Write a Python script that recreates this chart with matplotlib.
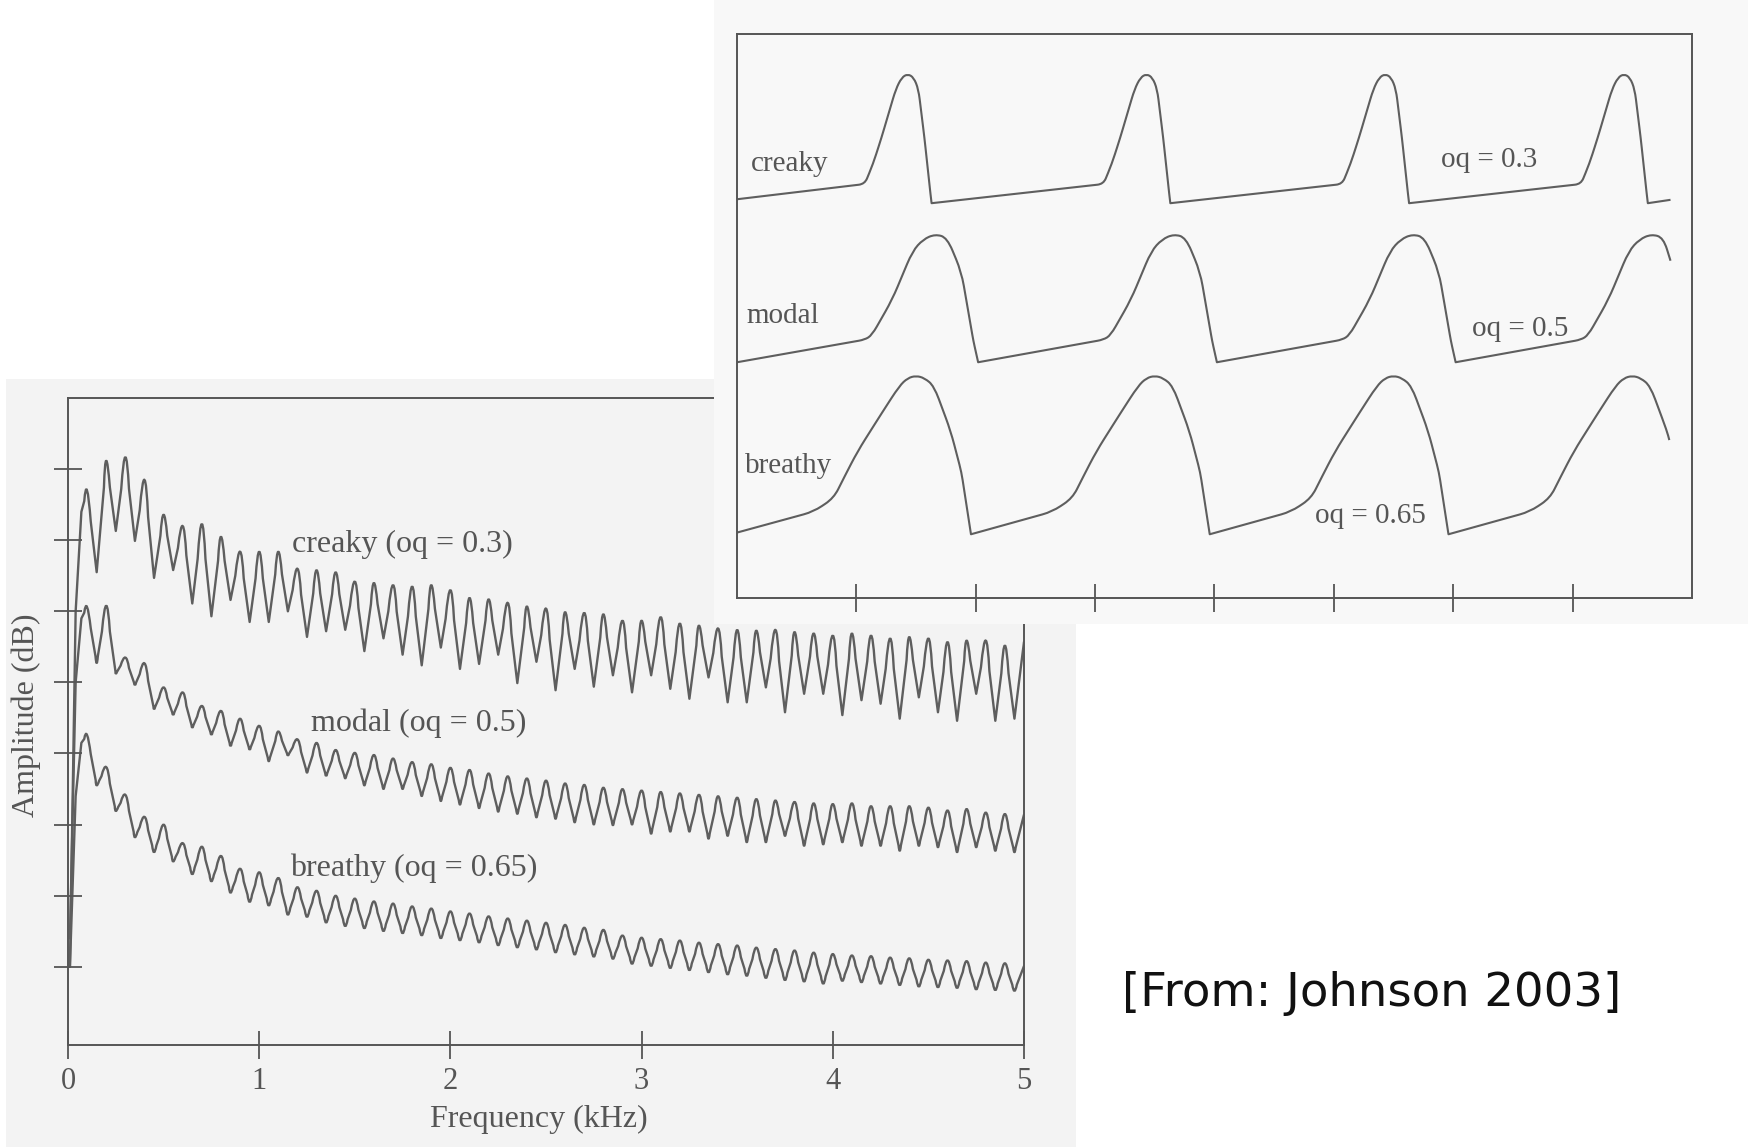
import numpy as np
import matplotlib
matplotlib.use("Agg")
import matplotlib.pyplot as plt
from matplotlib.patches import Rectangle, PathPatch
from matplotlib.path import Path

W, H = 1749, 1147
INK = "#555555"
LINE = "#5e5e5e"
SERIF = ["Liberation Serif", "DejaVu Serif"]

# ---- spectra (bottom panel): level at each harmonic peak and in the dip after it, dB ----
harmonics_khz = np.arange(1, 51) * 0.1
start_khz = [0.01, 0.04, 0.07]

creaky_start = [-80, -30, -16]
creaky_peaks = [-13.0, -8.8, -8.3, -11.5, -16.4, -18.0, -17.7, -19.5, -21.6, -21.6,
                -21.6, -24.0, -24.2, -24.5, -25.8, -26.0, -26.3, -26.5, -26.3, -27.0,
                -28.1, -28.3, -28.8, -29.3, -29.6, -30.1, -30.2, -30.4, -31.3, -31.3,
                -30.8, -31.7, -32.0, -32.4, -32.6, -32.7, -32.6, -32.9, -33.1, -33.4,
                -33.1, -33.4, -33.8, -33.6, -33.8, -34.3, -34.1, -34.1, -34.8, -34.3]
creaky_dips = [-24.5, -18.7, -20.1, -25.3, -24.2, -28.9, -30.7, -28.4, -31.5, -31.5,
               -30.0, -33.6, -32.8, -32.6, -35.6, -33.8, -36.1, -37.6, -35.1, -38.1,
               -37.4, -36.1, -40.1, -37.1, -41.1, -38.1, -40.6, -39.0, -41.4, -39.0,
               -40.9, -42.3, -39.3, -42.8, -42.8, -40.7, -44.2, -41.6, -41.6, -44.6,
               -42.5, -43.0, -45.1, -42.1, -44.2, -45.4, -41.6, -45.4, -45.1]

modal_start = [-76, -40, -31]
modal_peaks = [-29.4, -29.2, -36.5, -37.3, -40.7, -41.4, -43.3, -44.0, -45.1, -46.1,
               -46.9, -48.0, -48.5, -49.5, -49.9, -50.2, -50.7, -51.2, -51.5, -52.0,
               -52.3, -52.8, -53.2, -53.5, -53.8, -54.2, -54.4, -54.8, -55.0, -55.2,
               -55.4, -55.6, -55.8, -56.0, -56.2, -56.4, -56.6, -56.8, -57.0, -57.1,
               -57.0, -57.4, -57.4, -57.4, -57.6, -58.0, -57.8, -58.3, -58.5, -58.6]
modal_dips = [-37.3, -38.8, -40.4, -43.8, -44.6, -46.4, -47.4, -49.0, -49.5, -51.1,
              -50.3, -52.7, -53.2, -53.5, -54.5, -55.0, -55.0, -56.0, -56.7, -57.2,
              -57.7, -58.2, -58.5, -59.0, -59.2, -59.7, -60.0, -60.1, -60.0, -61.3,
              -61.0, -61.0, -62.0, -61.6, -62.5, -62.5, -61.6, -63.0, -62.8, -62.5,
              -63.0, -63.0, -63.7, -63.0, -63.2, -63.9, -63.2, -63.7, -63.9]

breathy_start = [-80, -56, -48.5]
breathy_peaks = [-47.4, -51.9, -55.8, -58.9, -60.0, -62.6, -63.1, -64.4, -66.2, -66.7,
                 -67.5, -68.8, -69.3, -70.0, -70.4, -70.8, -71.1, -71.5, -71.8, -72.2,
                 -72.5, -72.9, -73.2, -73.5, -73.8, -74.1, -74.5, -74.8, -75.6, -75.9,
                 -76.1, -76.3, -76.6, -76.8, -77.0, -77.3, -77.5, -77.7, -78.0, -78.2,
                 -78.4, -78.5, -78.7, -78.8, -79.0, -79.1, -79.2, -79.4, -79.5, -79.9]
breathy_dips = [-54.5, -58.1, -61.8, -63.9, -65.2, -67.0, -68.0, -69.6, -70.9, -71.4,
                -72.7, -73.0, -73.8, -74.3, -74.6, -75.0, -75.3, -75.6, -76.0, -76.3,
                -76.6, -77.0, -77.3, -77.6, -78.0, -78.3, -78.6, -78.9, -79.6, -79.9,
                -80.2, -80.5, -80.8, -81.1, -81.3, -81.6, -81.9, -82.1, -82.4, -82.0,
                -82.2, -82.4, -82.6, -82.8, -82.9, -83.0, -83.2, -83.3, -83.4]

freq_ticks = [0, 1, 2, 3, 4, 5]
db_ticks = [-10, -20, -30, -40, -50, -60, -70, -80]

# ---- glottal pulses (top panel): one cycle, time in tick units, period = 2 ----
period = 2.0
n_cycles = 4
creaky_t = [1.07, 1.14, 1.21, 1.33, 1.38, 1.43, 1.48, 1.52, 1.57, 1.62, 1.63]
creaky_y = [73.4, 77.0, 81.6, 90.2, 92.3, 92.9, 92.3, 90.2, 81.6, 71.8, 70.0]
creaky_first, creaky_last = (0.0, 70.7), (7.82, 70.6)

modal_t = [1.07, 1.13, 1.30, 1.47, 1.56, 1.66, 1.76, 1.88, 1.98, 2.02]
modal_y = [45.8, 46.6, 52.9, 61.5, 63.6, 64.5, 63.9, 57.8, 45.6, 41.8]
modal_first, modal_last = (0.0, 41.8), (7.82, 59.8)

breathy_t = [0.64, 0.81, 0.90, 1.01, 1.21, 1.36, 1.43, 1.50, 1.57, 1.65, 1.79, 1.88, 1.96]
breathy_y = [15.3, 17.7, 21.5, 26.0, 32.7, 37.6, 39.0, 39.4, 39.0, 37.6, 29.6, 22.3, 11.3]
breathy_first, breathy_last = (0.0, 11.6), (7.81, 28.0)

time_ticks = [1, 2, 3, 4, 5, 6, 7]

# corner rounding (pixels) for each point of a cycle; 0 keeps the corner sharp
creaky_round = [6, 10, 10, 10, 10, 10, 10, 10, 10, 3, 0]
modal_round = [6, 10, 14, 14, 14, 14, 14, 14, 6, 0]
breathy_round = [10, 10, 14, 14, 14, 14, 14, 14, 14, 14, 14, 8, 0]


def round_path(x, y, rad, sx, sy, through):
    pts = np.column_stack([x, y]).astype(float)
    verts, codes = [pts[0]], [Path.MOVETO]
    for i in range(1, len(pts) - 1):
        p = pts[i]
        if rad[i] <= 0:
            verts.append(p)
            codes.append(Path.LINETO)
            continue
        d0, d1 = pts[i - 1] - p, pts[i + 1] - p
        l0 = np.hypot(d0[0] * sx, d0[1] * sy)
        l1 = np.hypot(d1[0] * sx, d1[1] * sy)
        a = p + min(0.5, rad[i] / l0) * d0
        b = p + min(0.5, rad[i] / l1) * d1
        c = 2 * p - (a + b) / 2 if through else p
        verts += [a, c, b]
        codes += [Path.LINETO, Path.CURVE3, Path.CURVE3]
    verts.append(pts[-1])
    codes.append(Path.LINETO)
    return Path(verts, codes)


def spectrum(start_db, peaks, dips, peak_r, dip_r):
    x = np.empty(2 * len(peaks) - 1)
    y = np.empty_like(x)
    x[0::2] = harmonics_khz
    x[1::2] = harmonics_khz[:-1] + 0.05
    y[0::2] = peaks
    y[1::2] = dips
    xs, ys = np.r_[start_khz, x], np.r_[start_db, y]
    rad = np.zeros(len(xs))
    rad[3::2] = peak_r
    rad[4::2] = dip_r
    rad[-1] = 0
    # radius given as fraction of the half-cycle, turned into pixels
    seg = np.hypot(0.05 * 191, (np.r_[ys[1:], ys[-1]] - ys) * 7.1)
    return round_path(xs, ys, rad * np.maximum(seg, 10), 191, 7.1, True)


def pulse_train(ct, cy, cr, first, last):
    ts, ys, rs = [first[0]], [first[1]], [0]
    for k in range(n_cycles):
        for t, v, r in zip(ct, cy, cr):
            if t + k * period < last[0]:
                ts.append(t + k * period)
                ys.append(v)
                rs.append(r)
    ts.append(last[0])
    ys.append(last[1])
    rs.append(0)
    return round_path(ts, ys, rs, 119.4, 5.64, False)


def fx(px):
    return px / W


def fy(py):
    return 1 - py / H


fig = plt.figure(figsize=(W / 100, H / 100), dpi=100)
fig.patch.set_facecolor("white")

# scanned paper behind the spectrum
fig.add_artist(Rectangle((fx(6), 0), fx(1076 - 6), (H - 379) / H,
                         transform=fig.transFigure, facecolor="#f3f3f3",
                         edgecolor="none", zorder=0))

ax = fig.add_axes([fx(68), fy(1045), fx(1024 - 68), (1045 - 398) / H])
ax.set_zorder(1)
ax.patch.set_alpha(0)
for path in (spectrum(creaky_start, creaky_peaks, creaky_dips, 0.38, 0.0),
             spectrum(modal_start, modal_peaks, modal_dips, 0.38, 0.12),
             spectrum(breathy_start, breathy_peaks, breathy_dips, 0.38, 0.25)):
    ax.add_patch(PathPatch(path, fill=False, edgecolor=LINE, lw=1.7,
                           joinstyle="round", capstyle="round"))
ax.set_xlim(0, 5)
ax.set_ylim(-91, 0)
ax.set_xticks(freq_ticks)
ax.set_yticks(db_ticks)
ax.set_yticklabels([])
ax.tick_params(direction="inout", length=20, width=1.3, color=INK,
               labelsize=22, labelcolor=INK, pad=6)
for lab in ax.get_xticklabels():
    lab.set_family(SERIF)
for s in ax.spines.values():
    s.set_color(INK)
    s.set_linewidth(1.4)
ax.set_xlabel("Frequency (kHz)", family=SERIF, fontsize=23, color=INK)
ax.set_ylabel("Amplitude (dB)", family=SERIF, fontsize=23, color=INK)
ax.xaxis.set_label_coords(0.492, -0.093)
ax.yaxis.set_label_coords(-0.028, 0.51)
lab_kw = dict(family=SERIF, fontsize=23, color=INK, va="center", ha="left")
ax.text(1.17, -20.6, "creaky (oq = 0.3)", **lab_kw)
ax.text(1.27, -45.8, "modal (oq = 0.5)", **lab_kw)
ax.text(1.16, -66.2, "breathy (oq = 0.65)", **lab_kw)

# scanned paper of the waveform panel, laid over the spectrum
fig.add_artist(Rectangle((fx(714), fy(624)), 1 - fx(714), 624 / H,
                         transform=fig.transFigure, facecolor="#f8f8f8",
                         edgecolor="none", zorder=2))

ax2 = fig.add_axes([fx(737), fy(598), fx(1692 - 737), (598 - 34) / H])
ax2.set_zorder(3)
ax2.patch.set_alpha(0)
for ct, cy, cr, a, b in ((creaky_t, creaky_y, creaky_round, creaky_first, creaky_last),
                         (modal_t, modal_y, modal_round, modal_first, modal_last),
                         (breathy_t, breathy_y, breathy_round, breathy_first, breathy_last)):
    ax2.add_patch(PathPatch(pulse_train(ct, cy, cr, a, b), fill=False,
                            edgecolor=LINE, lw=1.5, joinstyle="round"))
ax2.set_xlim(0, 8)
ax2.set_ylim(0, 100)
ax2.set_xticks(time_ticks)
ax2.set_xticklabels([])
ax2.set_yticks([])
ax2.tick_params(direction="inout", length=20, width=1.3, color=INK)
for s in ax2.spines.values():
    s.set_color(INK)
    s.set_linewidth(1.4)
kw2 = dict(family=SERIF, fontsize=21, color=INK, va="center")
ax2.text(0.12, 77.0, "creaky", ha="left", **kw2)
ax2.text(0.08, 50.0, "modal", ha="left", **kw2)
ax2.text(0.07, 23.4, "breathy", ha="left", **kw2)
ax2.text(6.30, 77.7, "oq = 0.3", ha="center", **kw2)
ax2.text(6.56, 47.7, "oq = 0.5", ha="center", **kw2)
ax2.text(5.31, 14.5, "oq = 0.65", ha="center", **kw2)

fig.text(fx(1372), fy(993), "[From: Johnson 2003]", ha="center", va="center",
         fontsize=33.5, color="#111111", family="DejaVu Sans")

fig.savefig("out.png", dpi=100)
